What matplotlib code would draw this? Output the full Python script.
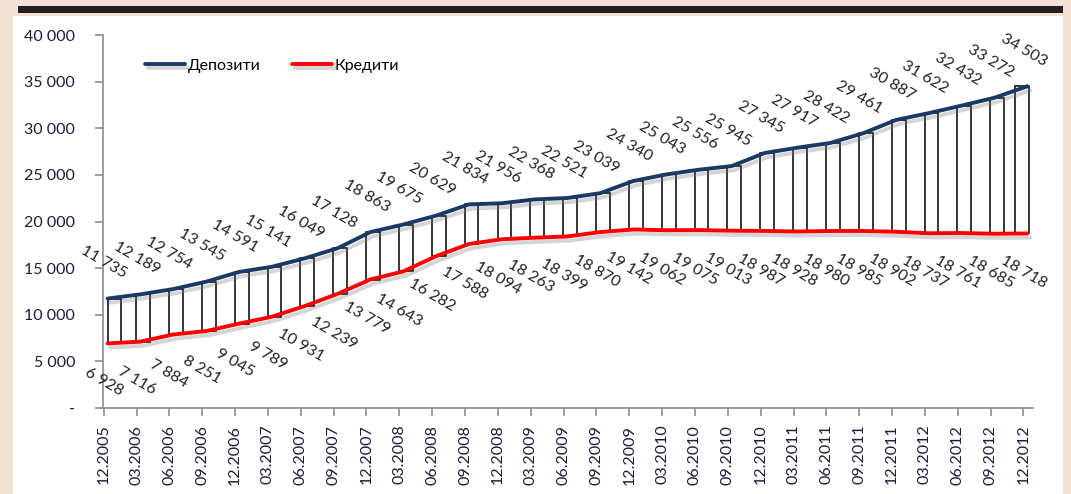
import numpy as np
import matplotlib.pyplot as plt
import matplotlib.patheffects as pe
from matplotlib.patches import Rectangle

plt.rcParams['font.family'] = ['Lato', 'DejaVu Sans']

# quarterly stock, deposits vs credits
quarters = ["12.2005", "03.2006", "06.2006", "09.2006", "12.2006", "03.2007", "06.2007",
            "09.2007", "12.2007", "03.2008", "06.2008", "09.2008", "12.2008", "03.2009",
            "06.2009", "09.2009", "12.2009", "03.2010", "06.2010", "09.2010", "12.2010",
            "03.2011", "06.2011", "09.2011", "12.2011", "03.2012", "06.2012", "09.2012",
            "12.2012"]
deposits = [11735, 12189, 12754, 13545, 14591, 15141, 16049, 17128, 18863, 19675,
            20629, 21834, 21956, 22368, 22521, 23039, 24340, 25043, 25556, 25945,
            27345, 27917, 28422, 29461, 30887, 31622, 32432, 33272, 34503]
credits = [6928, 7116, 7884, 8251, 9045, 9789, 10931, 12239, 13779, 14643,
           16282, 17588, 18094, 18263, 18399, 18870, 19142, 19062, 19075, 19013,
           18987, 18928, 18980, 18985, 18902, 18737, 18761, 18685, 18718]
y_ticks = [0, 5000, 10000, 15000, 20000, 25000, 30000, 35000, 40000]

def fmt(v):
    return f"{v:,}".replace(",", " ")

fig = plt.figure(figsize=(10.71, 4.94), dpi=100)
fig.patch.set_facecolor("#f3e3d6")

# white panel and dark bar on top
fig.patches.append(Rectangle((13/1071, 0), (1063-13)/1071, (494-16)/494,
                             transform=fig.transFigure, facecolor="white",
                             edgecolor="none", zorder=-10))
fig.patches.append(Rectangle((18/1071, (494-13)/494), (1063-18)/1071, 7/494,
                             transform=fig.transFigure, facecolor="#231f20",
                             edgecolor="none", zorder=-10))

ax = fig.add_axes([103/1071, (494-408)/494, (1033-103)/1071, (408-35)/494])
ax.set_facecolor("none")

x = np.arange(len(quarters))
dep = np.array(deposits)
cred = np.array(credits)
shadow = [pe.SimpleLineShadow(offset=(2, -3), shadow_color="#777777", alpha=0.3),
          pe.Normal()]

# up/down bars sit just right of each tick, the end ones pulled inside the plot
bar_x = x + 0.2
bar_x[0] = 0.33
bar_x[-1] = x[-1] - 0.05
ax.bar(bar_x, dep - cred, bottom=cred, width=0.42, facecolor="white",
       edgecolor="black", linewidth=1.1, zorder=2)

line_x = x + 0.12
ax.plot(line_x, dep, color="#1b3a63", lw=2.8, label="Депозити", zorder=3,
        path_effects=shadow, solid_capstyle="round")
ax.plot(line_x, cred, color="#ff0000", lw=2.8, label="Кредити", zorder=3,
        path_effects=shadow, solid_capstyle="round")

for xi, d, c in zip(x, deposits, credits):
    ax.annotate(fmt(d), (xi, d), xytext=(0, 26), textcoords="offset points",
                rotation=-30, ha="center", va="center", fontsize=11.5,
                color="#222222", rotation_mode="anchor")
    ax.annotate(fmt(c), (xi, c), xytext=(0, -28), textcoords="offset points",
                rotation=-30, ha="center", va="center", fontsize=11.5,
                color="#222222", rotation_mode="anchor")

ax.set_xlim(-0.02, 28.29)
ax.set_ylim(0, 40000)
ax.set_xticks(x)
ax.set_xticklabels(quarters, rotation=90, fontsize=11.5, color="#1c1c3a")
ax.set_yticks(y_ticks)
ax.set_yticklabels(["-"] + [fmt(v) for v in y_ticks[1:]], fontsize=11.5,
                   color="#1c1c3a")

for s in ["top", "right"]:
    ax.spines[s].set_visible(False)
for s in ["left", "bottom"]:
    ax.spines[s].set_color("#8c8c8c")
    ax.spines[s].set_linewidth(1.2)
ax.tick_params(axis="both", color="#8c8c8c", length=6, width=1.2)
ax.tick_params(axis="y", pad=14)
ax.tick_params(axis="x", pad=6)

ax.legend(loc="upper left", bbox_to_anchor=(0.03, 0.975), ncol=2, frameon=False,
          fontsize=11.5, handlelength=2.5, handletextpad=0.15, columnspacing=2.0)

fig.savefig("out.png", dpi=100, facecolor=fig.get_facecolor())
